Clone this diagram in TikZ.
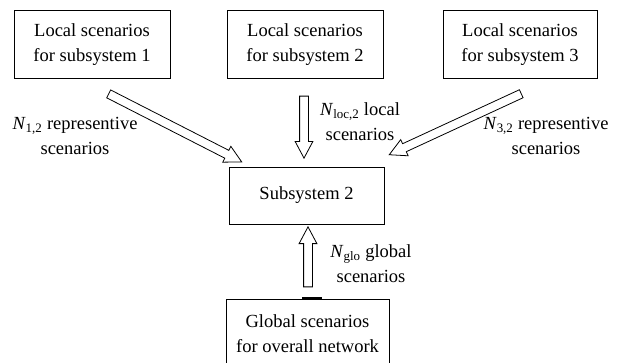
\documentclass[tikz,border=0pt]{standalone}
\usepackage{fontspec}
\setmainfont{Liberation Serif}
\usepackage{tikz}
\usetikzlibrary{arrows.meta,positioning,shapes.arrows,calc}

\begin{document}
\begin{tikzpicture}[x=1pt,y=1pt,
  font=\fontsize{18.5}{25}\selectfont,
  scenbox/.style={draw, line width=1pt, align=center, inner sep=0pt,
    minimum width=156pt, minimum height=68pt},
  lbl/.style={align=center, inner sep=0pt},
  bigarrow/.style={draw, line width=0.8pt, single arrow, inner xsep=0pt,
    inner ysep=4pt, text height=0pt, text depth=0pt,
    single arrow head extend=4.5pt, single arrow tip angle=56, fill=white}]
  \useasboundingbox (0,0) rectangle (617,362);
  \clip (0,0) rectangle (617,362);

  % boxes
  \node[scenbox] (box1) at (92,317) {Local scenarios\\for subsystem 1};
  \node[scenbox] (box2) at (305,317) {Local scenarios\\for subsystem 2};
  \node[scenbox, minimum width=154pt] (box3) at (520,317) {Local scenarios\\for subsystem 3};
  \node[scenbox, minimum width=155pt, minimum height=57pt] (sub) at (306.5,166.5) {Subsystem 2};
  \node[scenbox, minimum width=163pt, minimum height=70pt] (glo) at (307.5,28) {Global scenarios\\for overall network};
  \draw[line width=2.5pt] ($(glo.north)+(-5.5,0)$) -- ($(glo.north)+(14.5,0)$);

  % arrow ends
  \coordinate (t1) at (105,270);  \coordinate (h1) at (238,202);
  \coordinate (t2) at (304,270);  \coordinate (h2) at (304,208);
  \coordinate (t3) at (525,270);  \coordinate (h3) at (393,209);
  \coordinate (t4) at (308,71);   \coordinate (h4) at (308,131);
  \foreach \from/\to in {t1/h1,t2/h2,t3/h3,t4/h4}
    \path let \p1=($(\to)-(\from)$), \n1={veclen(\x1,\y1)} in
      (\from) -- (\to) node[midway, sloped, allow upside down, bigarrow, minimum height=\n1] {};

  % labels
  \node[lbl] (n12) at (75,226) {\textit{N}\textsubscript{1,2} representive\\scenarios};
  \node[lbl] (nloc) at (360,240) {\textit{N}\textsubscript{loc,2} local\\scenarios};
  \node[lbl] (n32) at (546,226) {\textit{N}\textsubscript{3,2} representive\\scenarios};
  \node[lbl] (nglo) at (371,98) {\textit{N}\textsubscript{glo} global\\scenarios};
\end{tikzpicture}
\end{document}
